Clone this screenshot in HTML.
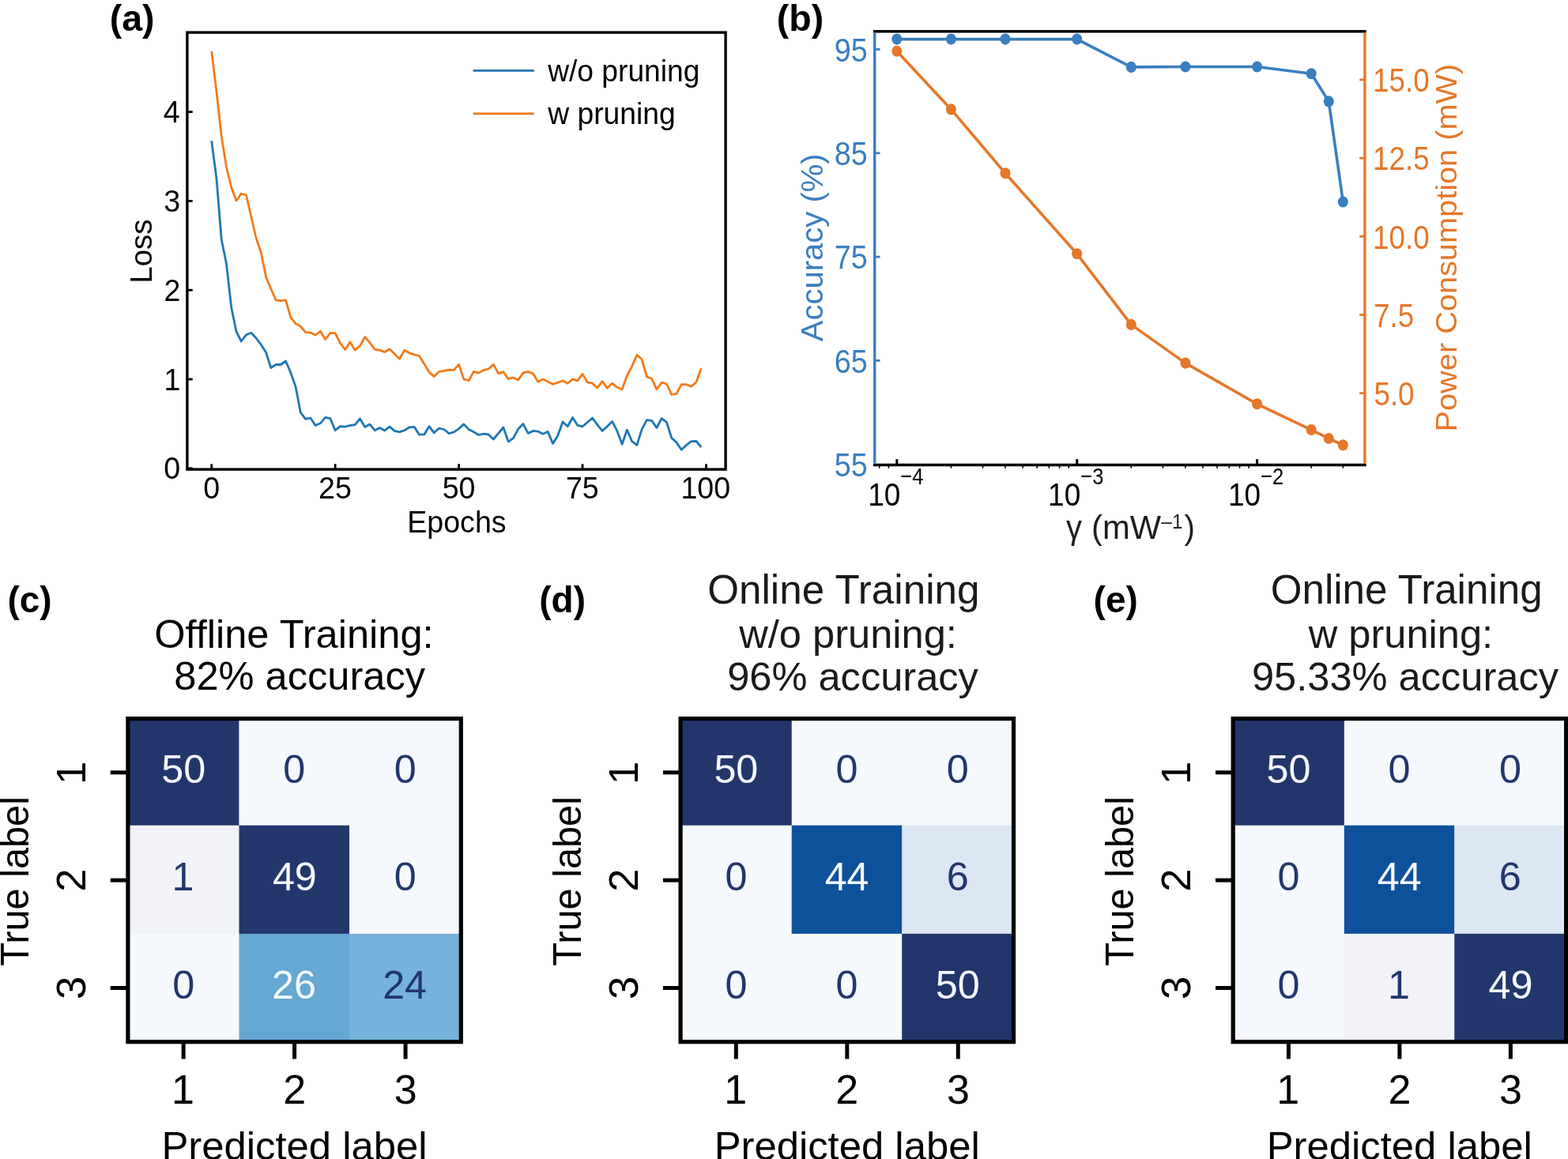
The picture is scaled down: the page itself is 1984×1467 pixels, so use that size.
<!DOCTYPE html>
<html><head><meta charset="utf-8"><title>Figure</title>
<style>html,body{margin:0;padding:0;background:#fff;} svg{display:block;}</style>
</head><body>
<svg width="1984" height="1467" viewBox="0 0 1984 1467" font-family="'Liberation Sans', Arial, sans-serif">
<rect width="1984" height="1467" fill="#ffffff"/>
<polyline points="267.70,178.30 273.96,226.00 280.22,303.10 286.47,333.80 292.73,389.00 298.99,419.70 305.25,432.00 311.51,423.80 317.76,421.30 324.02,427.90 330.28,436.20 336.54,446.00 342.80,465.60 349.05,461.50 355.31,461.50 361.57,457.00 367.83,471.70 374.09,489.50 380.34,522.20 386.60,530.30 392.86,529.00 399.12,538.50 405.38,535.80 411.63,528.30 417.89,529.70 424.15,544.70 430.41,539.60 436.67,540.20 442.92,538.50 449.18,537.60 455.44,530.00 461.70,540.40 467.96,537.10 474.21,544.70 480.47,541.60 486.73,545.00 492.99,540.10 499.25,545.30 505.50,546.90 511.76,544.70 518.02,540.80 524.28,540.40 530.54,550.20 536.79,549.90 543.05,539.60 549.31,547.80 555.57,542.00 561.83,543.50 568.08,548.60 574.34,546.90 580.60,542.60 586.86,536.90 593.12,543.50 599.37,546.80 605.63,550.50 611.89,549.20 618.15,549.90 624.41,556.00 630.66,548.40 636.92,541.00 643.18,559.10 649.44,554.60 655.70,543.00 661.95,536.60 668.21,548.40 674.47,545.40 680.73,546.10 686.99,549.20 693.24,546.40 699.50,561.40 705.76,551.50 712.02,534.00 718.28,539.80 724.53,528.50 730.79,538.30 737.05,540.00 743.31,534.50 749.57,529.10 755.82,537.60 762.08,545.40 768.34,539.80 774.60,533.40 780.86,545.40 787.11,562.30 793.37,544.10 799.63,558.50 805.89,563.40 812.15,543.30 818.40,531.60 824.66,532.40 830.92,541.50 837.18,529.70 843.44,534.30 849.69,554.20 855.95,559.90 862.21,569.30 868.47,563.40 874.73,558.60 880.98,558.30 887.24,566.00" fill="none" stroke="#1f77b4" stroke-width="2.8" stroke-linejoin="round" stroke-linecap="butt"/>
<polyline points="267.70,64.80 273.96,116.30 280.22,172.20 286.47,211.50 292.73,237.00 298.99,254.00 305.25,245.00 311.51,247.00 317.76,274.00 324.02,301.00 330.28,319.70 336.54,350.20 342.80,365.50 349.05,379.80 355.31,380.70 361.57,379.80 367.83,401.60 374.09,409.70 380.34,413.10 386.60,420.60 392.86,421.10 399.12,424.00 405.38,419.30 411.63,429.50 417.89,421.60 424.15,421.60 430.41,434.30 436.67,442.40 442.92,432.90 449.18,443.10 455.44,437.80 461.70,426.40 467.96,433.70 474.21,442.30 480.47,443.20 486.73,445.60 492.99,441.70 499.25,448.10 505.50,454.20 511.76,443.20 518.02,446.80 524.28,448.80 530.54,450.50 536.79,460.70 543.05,471.10 549.31,476.60 555.57,470.50 561.83,469.30 568.08,468.10 574.34,468.40 580.60,461.20 586.86,479.90 593.12,481.70 599.37,470.40 605.63,472.10 611.89,468.40 618.15,467.00 624.41,461.20 630.66,472.80 636.92,470.70 643.18,479.60 649.44,477.90 655.70,481.10 661.95,471.90 668.21,470.70 674.47,472.80 680.73,483.20 686.99,480.10 693.24,483.00 699.50,486.30 705.76,484.20 712.02,481.90 718.28,485.20 724.53,479.80 730.79,481.90 737.05,473.40 743.31,483.80 749.57,485.20 755.82,490.90 762.08,482.70 768.34,491.10 774.60,485.20 780.86,490.30 787.11,492.90 793.37,475.60 799.63,463.60 805.89,449.20 812.15,454.80 818.40,477.00 824.66,479.30 830.92,492.80 837.18,484.20 843.44,486.00 849.69,499.50 855.95,498.30 862.21,486.70 868.47,486.70 874.73,489.10 880.98,483.70 887.24,466.00" fill="none" stroke="#f27a1a" stroke-width="2.8" stroke-linejoin="round" stroke-linecap="butt"/>
<line x1="236.90" y1="592.80" x2="243.70" y2="592.80" stroke="#000" stroke-width="2.8" stroke-linecap="butt"/>
<line x1="236.90" y1="480.00" x2="243.70" y2="480.00" stroke="#000" stroke-width="2.8" stroke-linecap="butt"/>
<line x1="236.90" y1="367.20" x2="243.70" y2="367.20" stroke="#000" stroke-width="2.8" stroke-linecap="butt"/>
<line x1="236.90" y1="254.40" x2="243.70" y2="254.40" stroke="#000" stroke-width="2.8" stroke-linecap="butt"/>
<line x1="236.90" y1="141.60" x2="243.70" y2="141.60" stroke="#000" stroke-width="2.8" stroke-linecap="butt"/>
<line x1="267.70" y1="594.10" x2="267.70" y2="587.30" stroke="#000" stroke-width="2.8" stroke-linecap="butt"/>
<line x1="424.15" y1="594.10" x2="424.15" y2="587.30" stroke="#000" stroke-width="2.8" stroke-linecap="butt"/>
<line x1="580.60" y1="594.10" x2="580.60" y2="587.30" stroke="#000" stroke-width="2.8" stroke-linecap="butt"/>
<line x1="737.05" y1="594.10" x2="737.05" y2="587.30" stroke="#000" stroke-width="2.8" stroke-linecap="butt"/>
<line x1="893.50" y1="594.10" x2="893.50" y2="587.30" stroke="#000" stroke-width="2.8" stroke-linecap="butt"/>
<rect x="236.90" y="41.10" width="681.20" height="553.00" fill="none" stroke="#000" stroke-width="3.4"/>
<text transform="translate(207.16,606.45) scale(1.0000,1.0550)" font-size="37.60" fill="#000">0</text>
<text transform="translate(207.52,493.65) scale(1.0000,1.0550)" font-size="37.60" fill="#000">1</text>
<text transform="translate(207.58,380.85) scale(1.0000,1.0550)" font-size="37.60" fill="#000">2</text>
<text transform="translate(207.34,268.05) scale(1.0000,1.0550)" font-size="37.60" fill="#000">3</text>
<text transform="translate(206.79,155.25) scale(1.0000,1.0550)" font-size="37.60" fill="#000">4</text>
<text transform="translate(257.24,631.40) scale(1.0000,1.0550)" font-size="37.60" fill="#000">0</text>
<text transform="translate(403.08,631.40) scale(1.0000,1.0550)" font-size="37.60" fill="#000">25</text>
<text transform="translate(559.67,631.40) scale(1.0000,1.0550)" font-size="37.60" fill="#000">50</text>
<text transform="translate(715.96,631.40) scale(1.0000,1.0550)" font-size="37.60" fill="#000">75</text>
<text transform="translate(861.44,631.40) scale(1.0000,1.0550)" font-size="37.60" fill="#000">100</text>
<text transform="translate(515.23,673.60) scale(1.0000,1.0550)" font-size="37.60" fill="#000">Epochs</text>
<text transform="translate(192.00,358.76) rotate(-90)" font-size="38.50" fill="#000">Loss</text>
<line x1="598.60" y1="89.40" x2="675.90" y2="89.40" stroke="#1f77b4" stroke-width="2.8" stroke-linecap="butt"/>
<line x1="598.60" y1="143.90" x2="675.90" y2="143.90" stroke="#f27a1a" stroke-width="2.8" stroke-linecap="butt"/>
<text transform="translate(693.15,103.00) scale(1.0000,1.0400)" font-size="37.20" fill="#000">w/o pruning</text>
<text transform="translate(693.15,156.90) scale(1.0000,1.0250)" font-size="37.30" fill="#000">w pruning</text>
<text transform="translate(138.68,38.80)" font-size="46.50" font-weight="bold" fill="#000">(a)</text>
<polyline points="1134.80,49.60 1203.40,49.60 1272.01,49.60 1362.70,49.60 1431.30,84.90 1499.91,84.50 1590.60,84.50 1659.20,93.30 1681.29,128.40 1699.34,255.50" fill="none" stroke="#3a7ebf" stroke-width="3.6" stroke-linejoin="round" stroke-linecap="butt"/>
<ellipse cx="1134.80" cy="49.60" rx="6.5" ry="7.05" fill="#3a7ebf"/>
<ellipse cx="1203.40" cy="49.60" rx="6.5" ry="7.05" fill="#3a7ebf"/>
<ellipse cx="1272.01" cy="49.60" rx="6.5" ry="7.05" fill="#3a7ebf"/>
<ellipse cx="1362.70" cy="49.60" rx="6.5" ry="7.05" fill="#3a7ebf"/>
<ellipse cx="1431.30" cy="84.90" rx="6.5" ry="7.05" fill="#3a7ebf"/>
<ellipse cx="1499.91" cy="84.50" rx="6.5" ry="7.05" fill="#3a7ebf"/>
<ellipse cx="1590.60" cy="84.50" rx="6.5" ry="7.05" fill="#3a7ebf"/>
<ellipse cx="1659.20" cy="93.30" rx="6.5" ry="7.05" fill="#3a7ebf"/>
<ellipse cx="1681.29" cy="128.40" rx="6.5" ry="7.05" fill="#3a7ebf"/>
<ellipse cx="1699.34" cy="255.50" rx="6.5" ry="7.05" fill="#3a7ebf"/>
<polyline points="1134.80,64.80 1203.40,138.40 1272.01,219.30 1362.70,321.30 1431.30,410.90 1499.91,459.60 1590.60,511.30 1659.20,544.10 1681.29,555.00 1699.34,563.40" fill="none" stroke="#e5772a" stroke-width="3.6" stroke-linejoin="round" stroke-linecap="butt"/>
<ellipse cx="1134.80" cy="64.80" rx="6.5" ry="7.05" fill="#e5772a"/>
<ellipse cx="1203.40" cy="138.40" rx="6.5" ry="7.05" fill="#e5772a"/>
<ellipse cx="1272.01" cy="219.30" rx="6.5" ry="7.05" fill="#e5772a"/>
<ellipse cx="1362.70" cy="321.30" rx="6.5" ry="7.05" fill="#e5772a"/>
<ellipse cx="1431.30" cy="410.90" rx="6.5" ry="7.05" fill="#e5772a"/>
<ellipse cx="1499.91" cy="459.60" rx="6.5" ry="7.05" fill="#e5772a"/>
<ellipse cx="1590.60" cy="511.30" rx="6.5" ry="7.05" fill="#e5772a"/>
<ellipse cx="1659.20" cy="544.10" rx="6.5" ry="7.05" fill="#e5772a"/>
<ellipse cx="1681.29" cy="555.00" rx="6.5" ry="7.05" fill="#e5772a"/>
<ellipse cx="1699.34" cy="563.40" rx="6.5" ry="7.05" fill="#e5772a"/>
<line x1="1106.70" y1="62.50" x2="1113.50" y2="62.50" stroke="#3a7ebf" stroke-width="2.8" stroke-linecap="butt"/>
<line x1="1106.70" y1="193.80" x2="1113.50" y2="193.80" stroke="#3a7ebf" stroke-width="2.8" stroke-linecap="butt"/>
<line x1="1106.70" y1="325.10" x2="1113.50" y2="325.10" stroke="#3a7ebf" stroke-width="2.8" stroke-linecap="butt"/>
<line x1="1106.70" y1="456.40" x2="1113.50" y2="456.40" stroke="#3a7ebf" stroke-width="2.8" stroke-linecap="butt"/>
<line x1="1726.90" y1="100.90" x2="1720.20" y2="100.90" stroke="#e5772a" stroke-width="2.8" stroke-linecap="butt"/>
<line x1="1726.90" y1="200.10" x2="1720.20" y2="200.10" stroke="#e5772a" stroke-width="2.8" stroke-linecap="butt"/>
<line x1="1726.90" y1="299.30" x2="1720.20" y2="299.30" stroke="#e5772a" stroke-width="2.8" stroke-linecap="butt"/>
<line x1="1726.90" y1="398.50" x2="1720.20" y2="398.50" stroke="#e5772a" stroke-width="2.8" stroke-linecap="butt"/>
<line x1="1726.90" y1="497.70" x2="1720.20" y2="497.70" stroke="#e5772a" stroke-width="2.8" stroke-linecap="butt"/>
<line x1="1134.80" y1="588.50" x2="1134.80" y2="581.20" stroke="#000" stroke-width="3.0" stroke-linecap="butt"/>
<line x1="1362.70" y1="588.50" x2="1362.70" y2="581.20" stroke="#000" stroke-width="3.0" stroke-linecap="butt"/>
<line x1="1590.60" y1="588.50" x2="1590.60" y2="581.20" stroke="#000" stroke-width="3.0" stroke-linecap="butt"/>
<line x1="1112.71" y1="588.50" x2="1112.71" y2="592.70" stroke="#000" stroke-width="1.6" stroke-linecap="butt"/>
<line x1="1124.37" y1="588.50" x2="1124.37" y2="592.70" stroke="#000" stroke-width="1.6" stroke-linecap="butt"/>
<line x1="1203.40" y1="588.50" x2="1203.40" y2="592.70" stroke="#000" stroke-width="1.6" stroke-linecap="butt"/>
<line x1="1243.54" y1="588.50" x2="1243.54" y2="592.70" stroke="#000" stroke-width="1.6" stroke-linecap="butt"/>
<line x1="1272.01" y1="588.50" x2="1272.01" y2="592.70" stroke="#000" stroke-width="1.6" stroke-linecap="butt"/>
<line x1="1294.10" y1="588.50" x2="1294.10" y2="592.70" stroke="#000" stroke-width="1.6" stroke-linecap="butt"/>
<line x1="1312.14" y1="588.50" x2="1312.14" y2="592.70" stroke="#000" stroke-width="1.6" stroke-linecap="butt"/>
<line x1="1327.40" y1="588.50" x2="1327.40" y2="592.70" stroke="#000" stroke-width="1.6" stroke-linecap="butt"/>
<line x1="1340.61" y1="588.50" x2="1340.61" y2="592.70" stroke="#000" stroke-width="1.6" stroke-linecap="butt"/>
<line x1="1352.27" y1="588.50" x2="1352.27" y2="592.70" stroke="#000" stroke-width="1.6" stroke-linecap="butt"/>
<line x1="1431.30" y1="588.50" x2="1431.30" y2="592.70" stroke="#000" stroke-width="1.6" stroke-linecap="butt"/>
<line x1="1471.44" y1="588.50" x2="1471.44" y2="592.70" stroke="#000" stroke-width="1.6" stroke-linecap="butt"/>
<line x1="1499.91" y1="588.50" x2="1499.91" y2="592.70" stroke="#000" stroke-width="1.6" stroke-linecap="butt"/>
<line x1="1522.00" y1="588.50" x2="1522.00" y2="592.70" stroke="#000" stroke-width="1.6" stroke-linecap="butt"/>
<line x1="1540.04" y1="588.50" x2="1540.04" y2="592.70" stroke="#000" stroke-width="1.6" stroke-linecap="butt"/>
<line x1="1555.30" y1="588.50" x2="1555.30" y2="592.70" stroke="#000" stroke-width="1.6" stroke-linecap="butt"/>
<line x1="1568.51" y1="588.50" x2="1568.51" y2="592.70" stroke="#000" stroke-width="1.6" stroke-linecap="butt"/>
<line x1="1580.17" y1="588.50" x2="1580.17" y2="592.70" stroke="#000" stroke-width="1.6" stroke-linecap="butt"/>
<line x1="1659.20" y1="588.50" x2="1659.20" y2="592.70" stroke="#000" stroke-width="1.6" stroke-linecap="butt"/>
<line x1="1699.34" y1="588.50" x2="1699.34" y2="592.70" stroke="#000" stroke-width="1.6" stroke-linecap="butt"/>
<line x1="1105.00" y1="39.70" x2="1728.60" y2="39.70" stroke="#000" stroke-width="3.4" stroke-linecap="butt"/>
<line x1="1105.00" y1="588.50" x2="1728.60" y2="588.50" stroke="#000" stroke-width="3.4" stroke-linecap="butt"/>
<line x1="1106.70" y1="41.40" x2="1106.70" y2="586.80" stroke="#3a7ebf" stroke-width="3.4" stroke-linecap="butt"/>
<line x1="1726.90" y1="41.40" x2="1726.90" y2="586.80" stroke="#e5772a" stroke-width="3.4" stroke-linecap="butt"/>
<text transform="translate(1055.64,77.83) scale(1.0000,1.1170)" font-size="37.80" fill="#3a7ebf">95</text>
<text transform="translate(1055.64,209.13) scale(1.0000,1.1170)" font-size="37.80" fill="#3a7ebf">85</text>
<text transform="translate(1055.64,340.43) scale(1.0000,1.1170)" font-size="37.80" fill="#3a7ebf">75</text>
<text transform="translate(1055.64,471.73) scale(1.0000,1.1170)" font-size="37.80" fill="#3a7ebf">65</text>
<text transform="translate(1055.64,603.03) scale(1.0000,1.1170)" font-size="37.80" fill="#3a7ebf">55</text>
<text transform="translate(1737.10,116.26) scale(1.0000,1.1460)" font-size="36.80" fill="#e5772a">15.0</text>
<text transform="translate(1737.10,215.46) scale(1.0000,1.1460)" font-size="36.80" fill="#e5772a">12.5</text>
<text transform="translate(1737.10,314.66) scale(1.0000,1.1460)" font-size="36.80" fill="#e5772a">10.0</text>
<text transform="translate(1738.01,413.86) scale(1.0000,1.1460)" font-size="36.80" fill="#e5772a">7.5</text>
<text transform="translate(1738.43,513.06) scale(1.0000,1.1460)" font-size="36.80" fill="#e5772a">5.0</text>
<text transform="translate(1098.18,639.70) scale(1.0000,1.1170)" font-size="37.00" fill="#000">10</text>
<text transform="translate(1139.34,612.70) scale(1.0000,1.1900)" font-size="25.50" fill="#000">−4</text>
<text transform="translate(1326.08,639.70) scale(1.0000,1.1170)" font-size="37.00" fill="#000">10</text>
<text transform="translate(1367.24,612.70) scale(1.0000,1.1900)" font-size="25.50" fill="#000">−3</text>
<text transform="translate(1553.98,639.70) scale(1.0000,1.1170)" font-size="37.00" fill="#000">10</text>
<text transform="translate(1595.14,612.70) scale(1.0000,1.1900)" font-size="25.50" fill="#000">−2</text>
<text transform="translate(1041.00,432.28) rotate(-90) scale(1.0560,1.0000)" font-size="37.90" fill="#3a7ebf">Accuracy (%)</text>
<text transform="translate(1843.20,546.46) rotate(-90) scale(1.0510,1.0000)" font-size="37.80" fill="#e5772a">Power Consumption (mW)</text>
<text transform="translate(1348.96,682.20) scale(1.0000,1.0400)" font-size="40.00" fill="#1d1d1b">γ</text>
<text transform="translate(1381.01,682.20) scale(1.0000,1.0300)" font-size="41.70" fill="#1d1d1b">(mW</text>
<text transform="translate(1469.30,668.60) scale(1.0000,1.0500)" font-size="24.50" fill="#1d1d1b">–1</text>
<text transform="translate(1498.56,682.20) scale(1.0000,1.0600)" font-size="40.50" fill="#1d1d1b">)</text>
<text transform="translate(982.78,39.20)" font-size="46.50" font-weight="bold" fill="#000">(b)</text>
<rect x="161.90" y="909.60" width="140.90" height="135.40" fill="#22366b"/>
<rect x="302.50" y="909.60" width="139.80" height="135.40" fill="#f5f8fc"/>
<rect x="442.00" y="909.60" width="141.60" height="135.40" fill="#f5f8fc"/>
<rect x="161.90" y="1044.70" width="140.90" height="137.50" fill="#f1f3f9"/>
<rect x="302.50" y="1044.70" width="139.80" height="137.50" fill="#22376b"/>
<rect x="442.00" y="1044.70" width="141.60" height="137.50" fill="#f5f8fc"/>
<rect x="161.90" y="1181.90" width="140.90" height="137.10" fill="#f5f8fc"/>
<rect x="302.50" y="1181.90" width="139.80" height="137.10" fill="#64a8d3"/>
<rect x="442.00" y="1181.90" width="141.60" height="137.10" fill="#76b2d9"/>
<text transform="translate(204.20,990.61)" font-size="50.30" fill="#f5f8fc">50</text>
<text transform="translate(358.26,990.61)" font-size="50.30" fill="#22366b">0</text>
<text transform="translate(498.66,990.61)" font-size="50.30" fill="#22366b">0</text>
<text transform="translate(217.53,1126.76)" font-size="50.30" fill="#22366b">1</text>
<text transform="translate(344.89,1126.76)" font-size="50.30" fill="#f5f8fc">49</text>
<text transform="translate(498.66,1126.76)" font-size="50.30" fill="#22366b">0</text>
<text transform="translate(218.21,1263.76)" font-size="50.30" fill="#22366b">0</text>
<text transform="translate(344.12,1263.76)" font-size="50.30" fill="#f5f8fc">26</text>
<text transform="translate(484.15,1263.76)" font-size="50.30" fill="#22366b">24</text>
<rect x="161.90" y="909.60" width="421.40" height="409.10" fill="none" stroke="#000" stroke-width="5.2"/>
<line x1="139.70" y1="977.78" x2="161.90" y2="977.78" stroke="#000" stroke-width="5.0" stroke-linecap="butt"/>
<line x1="232.13" y1="1318.70" x2="232.13" y2="1340.40" stroke="#000" stroke-width="5.0" stroke-linecap="butt"/>
<text transform="translate(216.96,1397.40)" font-size="52.00" fill="#000">1</text>
<text transform="translate(107.80,993.10) rotate(-90)" font-size="52.50" fill="#000">1</text>
<line x1="139.70" y1="1114.15" x2="161.90" y2="1114.15" stroke="#000" stroke-width="5.0" stroke-linecap="butt"/>
<line x1="372.60" y1="1318.70" x2="372.60" y2="1340.40" stroke="#000" stroke-width="5.0" stroke-linecap="butt"/>
<text transform="translate(358.14,1397.40)" font-size="52.00" fill="#000">2</text>
<text transform="translate(107.80,1128.75) rotate(-90)" font-size="52.50" fill="#000">2</text>
<line x1="139.70" y1="1250.52" x2="161.90" y2="1250.52" stroke="#000" stroke-width="5.0" stroke-linecap="butt"/>
<line x1="513.07" y1="1318.70" x2="513.07" y2="1340.40" stroke="#000" stroke-width="5.0" stroke-linecap="butt"/>
<text transform="translate(498.76,1397.40)" font-size="52.00" fill="#000">3</text>
<text transform="translate(107.80,1264.96) rotate(-90)" font-size="52.50" fill="#000">3</text>
<text transform="translate(36.00,1222.69) rotate(-90) scale(1.0000,1.0400)" font-size="48.70" fill="#000">True label</text>
<text transform="translate(204.43,1467.60)" font-size="50.80" fill="#000">Predicted label</text>
<rect x="861.10" y="909.60" width="140.90" height="135.40" fill="#22366b"/>
<rect x="1001.70" y="909.60" width="139.80" height="135.40" fill="#f5f8fc"/>
<rect x="1141.20" y="909.60" width="141.60" height="135.40" fill="#f5f8fc"/>
<rect x="861.10" y="1044.70" width="140.90" height="137.50" fill="#f5f8fc"/>
<rect x="1001.70" y="1044.70" width="139.80" height="137.50" fill="#0e519b"/>
<rect x="1141.20" y="1044.70" width="141.60" height="137.50" fill="#dde7f3"/>
<rect x="861.10" y="1181.90" width="140.90" height="137.10" fill="#f5f8fc"/>
<rect x="1001.70" y="1181.90" width="139.80" height="137.10" fill="#f5f8fc"/>
<rect x="1141.20" y="1181.90" width="141.60" height="137.10" fill="#22366b"/>
<text transform="translate(903.40,990.61)" font-size="50.30" fill="#f5f8fc">50</text>
<text transform="translate(1057.46,990.61)" font-size="50.30" fill="#22366b">0</text>
<text transform="translate(1197.86,990.61)" font-size="50.30" fill="#22366b">0</text>
<text transform="translate(917.41,1126.76)" font-size="50.30" fill="#22366b">0</text>
<text transform="translate(1043.64,1126.76)" font-size="50.30" fill="#f5f8fc">44</text>
<text transform="translate(1197.69,1126.76)" font-size="50.30" fill="#22366b">6</text>
<text transform="translate(917.41,1263.76)" font-size="50.30" fill="#22366b">0</text>
<text transform="translate(1057.46,1263.76)" font-size="50.30" fill="#22366b">0</text>
<text transform="translate(1183.85,1263.76)" font-size="50.30" fill="#f5f8fc">50</text>
<rect x="861.10" y="909.60" width="421.40" height="409.10" fill="none" stroke="#000" stroke-width="5.2"/>
<line x1="838.90" y1="977.78" x2="861.10" y2="977.78" stroke="#000" stroke-width="5.0" stroke-linecap="butt"/>
<line x1="931.33" y1="1318.70" x2="931.33" y2="1340.40" stroke="#000" stroke-width="5.0" stroke-linecap="butt"/>
<text transform="translate(916.16,1397.40)" font-size="52.00" fill="#000">1</text>
<text transform="translate(807.00,993.10) rotate(-90)" font-size="52.50" fill="#000">1</text>
<line x1="838.90" y1="1114.15" x2="861.10" y2="1114.15" stroke="#000" stroke-width="5.0" stroke-linecap="butt"/>
<line x1="1071.80" y1="1318.70" x2="1071.80" y2="1340.40" stroke="#000" stroke-width="5.0" stroke-linecap="butt"/>
<text transform="translate(1057.34,1397.40)" font-size="52.00" fill="#000">2</text>
<text transform="translate(807.00,1128.75) rotate(-90)" font-size="52.50" fill="#000">2</text>
<line x1="838.90" y1="1250.52" x2="861.10" y2="1250.52" stroke="#000" stroke-width="5.0" stroke-linecap="butt"/>
<line x1="1212.27" y1="1318.70" x2="1212.27" y2="1340.40" stroke="#000" stroke-width="5.0" stroke-linecap="butt"/>
<text transform="translate(1197.96,1397.40)" font-size="52.00" fill="#000">3</text>
<text transform="translate(807.00,1264.96) rotate(-90)" font-size="52.50" fill="#000">3</text>
<text transform="translate(735.20,1222.69) rotate(-90) scale(1.0000,1.0400)" font-size="48.70" fill="#000">True label</text>
<text transform="translate(903.63,1467.60)" font-size="50.80" fill="#000">Predicted label</text>
<rect x="1560.20" y="909.60" width="140.90" height="135.40" fill="#22366b"/>
<rect x="1700.80" y="909.60" width="139.80" height="135.40" fill="#f5f8fc"/>
<rect x="1840.30" y="909.60" width="141.60" height="135.40" fill="#f5f8fc"/>
<rect x="1560.20" y="1044.70" width="140.90" height="137.50" fill="#f5f8fc"/>
<rect x="1700.80" y="1044.70" width="139.80" height="137.50" fill="#0e519b"/>
<rect x="1840.30" y="1044.70" width="141.60" height="137.50" fill="#dde7f3"/>
<rect x="1560.20" y="1181.90" width="140.90" height="137.10" fill="#f5f8fc"/>
<rect x="1700.80" y="1181.90" width="139.80" height="137.10" fill="#f1f3f9"/>
<rect x="1840.30" y="1181.90" width="141.60" height="137.10" fill="#22376b"/>
<text transform="translate(1602.50,990.61)" font-size="50.30" fill="#f5f8fc">50</text>
<text transform="translate(1756.56,990.61)" font-size="50.30" fill="#22366b">0</text>
<text transform="translate(1896.96,990.61)" font-size="50.30" fill="#22366b">0</text>
<text transform="translate(1616.51,1126.76)" font-size="50.30" fill="#22366b">0</text>
<text transform="translate(1742.74,1126.76)" font-size="50.30" fill="#f5f8fc">44</text>
<text transform="translate(1896.79,1126.76)" font-size="50.30" fill="#22366b">6</text>
<text transform="translate(1616.51,1263.76)" font-size="50.30" fill="#22366b">0</text>
<text transform="translate(1755.88,1263.76)" font-size="50.30" fill="#22366b">1</text>
<text transform="translate(1883.59,1263.76)" font-size="50.30" fill="#f5f8fc">49</text>
<rect x="1560.20" y="909.60" width="421.40" height="409.10" fill="none" stroke="#000" stroke-width="5.2"/>
<line x1="1538.00" y1="977.78" x2="1560.20" y2="977.78" stroke="#000" stroke-width="5.0" stroke-linecap="butt"/>
<line x1="1630.43" y1="1318.70" x2="1630.43" y2="1340.40" stroke="#000" stroke-width="5.0" stroke-linecap="butt"/>
<text transform="translate(1615.26,1397.40)" font-size="52.00" fill="#000">1</text>
<text transform="translate(1506.10,993.10) rotate(-90)" font-size="52.50" fill="#000">1</text>
<line x1="1538.00" y1="1114.15" x2="1560.20" y2="1114.15" stroke="#000" stroke-width="5.0" stroke-linecap="butt"/>
<line x1="1770.90" y1="1318.70" x2="1770.90" y2="1340.40" stroke="#000" stroke-width="5.0" stroke-linecap="butt"/>
<text transform="translate(1756.44,1397.40)" font-size="52.00" fill="#000">2</text>
<text transform="translate(1506.10,1128.75) rotate(-90)" font-size="52.50" fill="#000">2</text>
<line x1="1538.00" y1="1250.52" x2="1560.20" y2="1250.52" stroke="#000" stroke-width="5.0" stroke-linecap="butt"/>
<line x1="1911.37" y1="1318.70" x2="1911.37" y2="1340.40" stroke="#000" stroke-width="5.0" stroke-linecap="butt"/>
<text transform="translate(1897.06,1397.40)" font-size="52.00" fill="#000">3</text>
<text transform="translate(1506.10,1264.96) rotate(-90)" font-size="52.50" fill="#000">3</text>
<text transform="translate(1434.30,1222.69) rotate(-90) scale(1.0000,1.0400)" font-size="48.70" fill="#000">True label</text>
<text transform="translate(1602.73,1467.60)" font-size="50.80" fill="#000">Predicted label</text>
<text transform="translate(195.20,820.20)" font-size="50.60" fill="#000">Offline Training:</text>
<text transform="translate(220.30,873.20)" font-size="50.60" fill="#000">82% accuracy</text>
<text transform="translate(895.18,763.80)" font-size="51.20" fill="#1a1a18">Online Training</text>
<text transform="translate(935.27,819.80)" font-size="50.60" fill="#1a1a18">w/o pruning:</text>
<text transform="translate(920.13,873.70)" font-size="50.60" fill="#1a1a18">96% accuracy</text>
<text transform="translate(1607.68,764.00)" font-size="51.15" fill="#1a1a18">Online Training</text>
<text transform="translate(1655.67,819.50)" font-size="50.60" fill="#1a1a18">w pruning:</text>
<text transform="translate(1583.93,873.60)" font-size="50.60" fill="#1a1a18">95.33% accuracy</text>
<text transform="translate(9.41,775.40)" font-size="46.00" font-weight="bold" fill="#000">(c)</text>
<text transform="translate(682.21,775.00)" font-size="46.00" font-weight="bold" fill="#000">(d)</text>
<text transform="translate(1383.61,775.20)" font-size="46.00" font-weight="bold" fill="#000">(e)</text>
</svg>
</body></html>
